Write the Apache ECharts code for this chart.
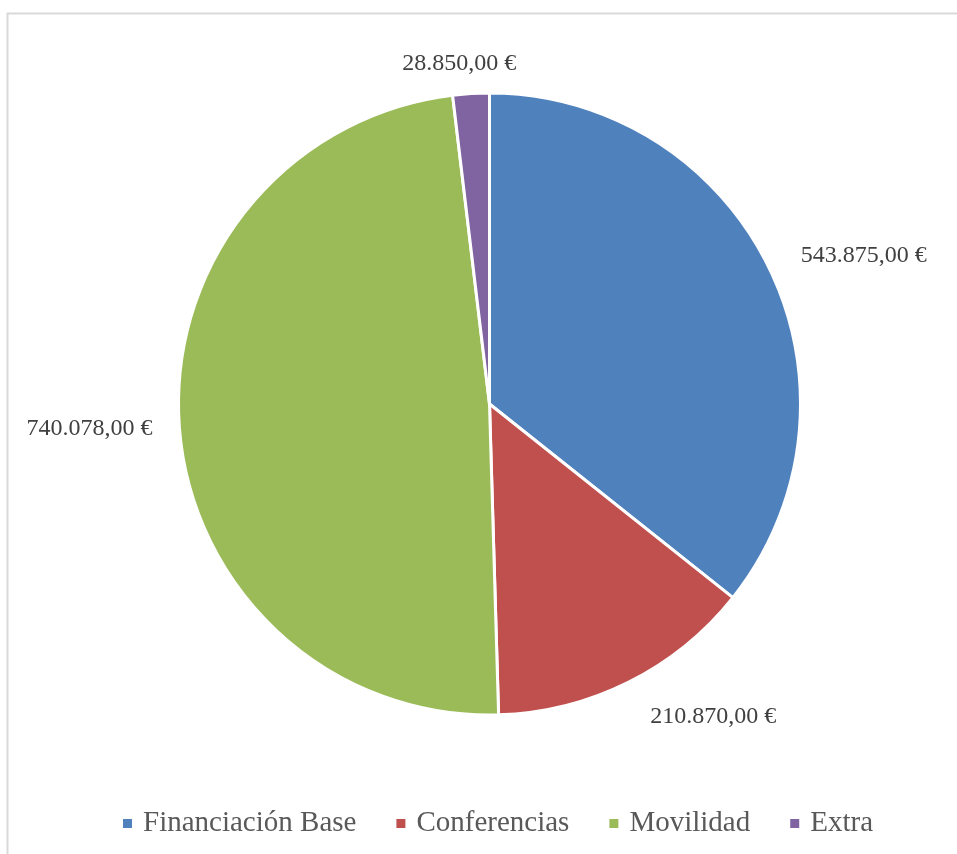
<!DOCTYPE html>
<html>
<head>
<meta charset="utf-8">
<script src="https://cdn.jsdelivr.net/npm/echarts@6/dist/echarts.min.js"></script>
<style>
  html, body { margin: 0; padding: 0; background: #fff; }
  #chart { width: 957px; height: 854px; }
</style>
</head>
<body>
<div id="chart"></div>
<script>
const categories = ['Financiación Base', 'Conferencias', 'Movilidad', 'Extra'];
const values = [543875, 210870, 740078, 28850];
const colors = ['#4F81BD', '#C0504D', '#9BBB59', '#8064A2'];
const labelLineLengths = [30, 39, 23, 30];

function fmtEuro(v) {
  const intPart = Math.floor(v).toString().replace(/\B(?=(\d{3})+(?!\d))/g, '.');
  return intPart + ',00 €';
}

const chart = echarts.init(document.getElementById('chart'), null, { renderer: 'canvas' });
const FONT = '"Liberation Serif", "DejaVu Serif", serif';

chart.setOption({
  animation: false,
  backgroundColor: '#ffffff',
  color: colors,
  graphic: [{
    type: 'rect',
    shape: { x: 7.5, y: 13.5, width: 1200, height: 1200 },
    style: { fill: 'none', stroke: '#d9d9d9', lineWidth: 2 },
    silent: true
  }],
  legend: {
    data: categories,
    left: 116,
    top: 804,
    orient: 'horizontal',
    itemWidth: 11,
    itemHeight: 11,
    itemGap: 38,
    icon: 'rect',
    textStyle: { fontFamily: FONT, fontSize: 29, color: '#595959', padding: [0, 0, 0, 5] }
  },
  series: [{
    type: 'pie',
    center: [489.5, 404],
    radius: [0, 311],
    startAngle: 90,
    clockwise: true,
    avoidLabelOverlap: false,
    itemStyle: { borderColor: '#ffffff', borderWidth: 3 },
    label: {
      show: true,
      position: 'outside',
      fontFamily: FONT,
      fontSize: 24,
      color: '#404040',
      distanceToLabelLine: 4,
      formatter: p => fmtEuro(p.value)
    },
    labelLine: { show: false, length: 30, length2: 0 },
    labelLayout: function (params) {
      if (params.dataIndex === 3) return { align: 'center', dx: -6 };
      return {};
    },
    emphasis: { disabled: true },
    data: categories.map((c, i) => ({
      name: c,
      value: values[i],
      labelLine: { show: false, length: labelLineLengths[i], length2: 0 }
    }))
  }]
});
</script>
</body>
</html>
